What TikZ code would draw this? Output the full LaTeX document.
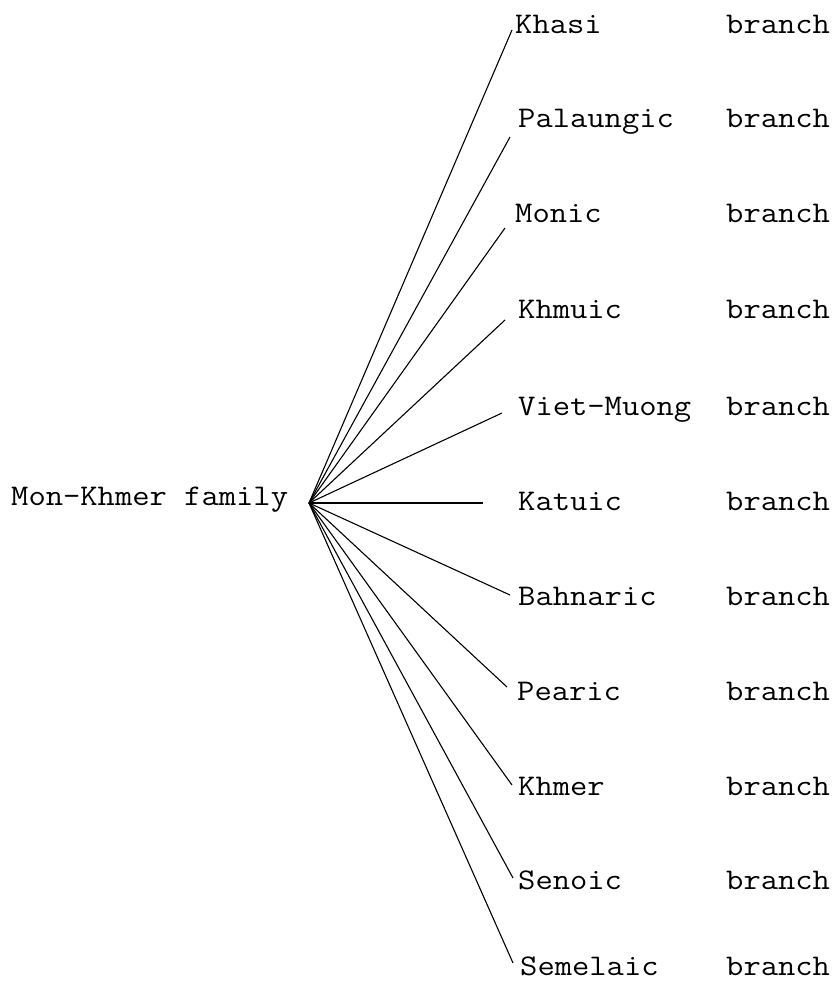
\documentclass[tikz,border=0pt]{standalone}
\usepackage{fontspec}
% typewriter face, slightly widened to a pica pitch
\newfontfamily\tw{Latin Modern Mono}[FakeStretch=1.12]
\begin{document}
\begin{tikzpicture}[x=1pt,y=-1pt,
  label/.style={font=\tw\fontsize{30}{31}\selectfont, anchor=base west, inner sep=0pt},
  spoke/.style={line width=1.1pt, black}]
\useasboundingbox (0,0) rectangle (833,989);

% root of the family tree
\node[label] (root) at (11,505) {Mon-Khmer family};
\coordinate (hub) at (309,503);

% branches: name, baseline, end of the spoke
\foreach \id/\name/\base/\ex/\ey/\tx in {
  khasi/Khasi/33/512/30/515,
  palaung/Palaungic/127/510/137/518,
  monic/Monic/222/505/228/515,
  khmuic/Khmuic/318/505/320/518,
  viet/Viet-Muong/415/502/413/518,
  katuic/Katuic/510/483/503/518,
  bahnar/Bahnaric/605/510/595/518,
  pearic/Pearic/700/507/687/517,
  khmer/Khmer/795/512/785/518,
  senoic/Senoic/889/513/878/518,
  semelai/Semelaic/975/513/963/520}{
  \node[label] (\id) at (\tx,\base) {\name};
  \node[label] (\id-b) at (726,\base) {branch};
  \coordinate (\id-end) at (\ex,\ey);
  \draw[spoke] (hub) -- (\id-end);
}
\end{tikzpicture}
\end{document}
